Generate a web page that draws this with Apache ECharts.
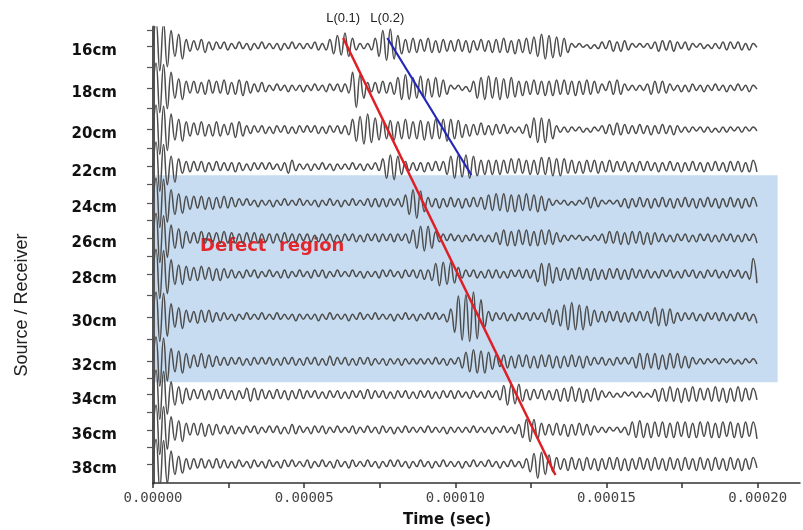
<!DOCTYPE html>
<html><head><meta charset="utf-8">
<script src="https://cdn.jsdelivr.net/npm/echarts@6/dist/echarts.min.js"></script>
<style>html,body{margin:0;padding:0;background:#fff}#c{width:803px;height:530px}</style>
</head><body><div id="c"></div>
<script>
// Trace labels and their baseline positions on the (uneven) source/receiver axis
const sources = ['16cm','18cm','20cm','22cm','24cm','26cm','28cm','30cm','32cm','34cm','36cm','38cm'];
const tracePos = [16, 18.2, 20.4, 22.35, 24.25, 26.1, 28.0, 30.25, 32.6, 34.35, 36.2, 38.0];
const xLabelTicks = [0, 0.00005, 0.0001, 0.00015, 0.0002];
const xMinorTicks = [0, 0.000025, 0.00005, 0.000075, 0.0001, 0.000125, 0.00015, 0.000175, 0.0002];
// sampling of the read peaks: first peak time and spacing (sec)
const t0 = 0.000001, dt = 0.00000125;
// Peak amplitudes (alternating up/down, pixel-like units)
const tr16 = [19,-19,18,-16,12,-8,9,-10,5,-4, 4,-3,5,-5,3,-3,3,-2,3,-3, 2,-2,3,-2,2,-3,2,-2,3,-2, 2,-2,2,-3,2,-2,3,-2,2,-2, 2,-2,3,-3,2,-3,5,-6,8,-7, 10,-8,6,-3,2,-2,2,-3,6,-8, 12,-11,13,-10,8,-6,5,-5,6,-5, 5,-4,6,-5,4,-5,5,-4,4,-4, 5,-4,4,-5,4,-3,5,-4,4,-5, 5,-5,6,-5,4,-6,5,-5,6,-6, 7,-8,9,-10,8,-9,7,-8,6,-5, 2,-1,2,-1,1,-2,1,-2,3,-2, 4,-4,3,-4,4,-3,2,-1,2,-1, 2,-2,3,-4,4,-3,4,-4,3,-2, 3,-3,2,-1,2,-2,1,-2,2,-2, 3,-3,3,-2,3,-3,2,-3,2,-1];
const tr18 = [19,-19,18,-16,12,-8,7,-9,5,-4, 5,-4,4,-5,6,-4,5,-4,6,-5, 4,-5,6,-6,5,-4,3,-3,4,-3, 2,-2,3,-2,2,-3,2,-2,2,-3, 2,-2,3,-2,2,-3,3,-2,3,-3, 3,-4,12,-15,10,-8,4,-3,4,-4, 5,-4,4,-5,8,-9,10,-9,8,-8, 9,-8,7,-7,8,-7,6,-5,2,-1, 2,-2,1,-3,5,-8,8,-9,9,-8, 8,-9,7,-8,8,-7,5,-6,5,-5, 6,-5,5,-6,5,-6,6,-5,6,-5, 5,-6,5,-5,6,-5,5,-4,3,-2, 5,-5,6,-5,3,-2,2,-2,2,-2, 3,-5,5,-4,5,-4,3,-2,2,-3, 2,-3,3,-2,2,-3,2,-2,3,-2, 2,-3,2,-2,3,-2,2,-3,2,-1];
const tr20 = [19,-19,18,-16,12,-8,8,-9,6,-5, 5,-4,6,-5,4,-5,6,-5,4,-4, 5,-6,6,-5,3,-3,3,-2,3,-3, 2,-3,3,-2,3,-3,2,-3,3,-2, 3,-2,3,-3,2,-3,3,-2,3,-3, 3,-4,8,-9,10,-11,12,-10,9,-8, 8,-7,7,-8,6,-7,8,-7,6,-7, 7,-8,6,-7,8,-7,8,-9,8,-7, 7,-6,4,-5,4,-4,5,-4,3,-4, 4,-3,4,-3,2,-2,2,-3,4,-6, 9,-10,9,-10,8,-7,3,-2,2,-2, 2,-1,2,-2,1,-2,2,-1,3,-3, 4,-4,5,-4,4,-3,3,-3,4,-3, 3,-4,3,-3,4,-3,3,-4,3,-2, 2,-2,2,-1,2,-2,2,-2,1,-2, 2,-2,2,-1,2,-2,2,-1,2,-1];
const tr22 = [19,-19,17,-14,8,-12,6,-5,4,-4, 4,-3,4,-4,3,-3,4,-3,3,-3, 3,-4,3,-3,2,-3,3,-2,3,-2, 3,-2,2,-3,3,-5,5,-3,2,-2, 2,-3,2,-2,3,-2,2,-3,2,-2, 2,-2,3,-2,2,-3,2,-2,3,-3, 6,-9,9,-10,8,-6,4,-3,3,-3, 3,-4,3,-3,4,-3,4,-6,8,-9, 9,-8,9,-9,8,-7,5,-6,5,-6, 5,-6,5,-5,6,-5,6,-5,5,-6, 5,-6,7,-6,7,-7,6,-7,6,-5, 5,-5,4,-5,5,-4,5,-5,4,-4, 5,-4,4,-3,4,-4,3,-4,4,-3, 4,-3,3,-4,3,-3,4,-3,3,-4, 3,-3,4,-3,3,-4,3,-3,4,-3, 3,-4,4,-3,4,-4,3,-4,5,-4];
const tr24 = [19,-19,18,-15,10,-9,7,-8,5,-5, 5,-4,5,-5,4,-5,4,-4,5,-4, 4,-3,3,-2,3,-2,2,-3,2,-2, 2,-3,2,-2,3,-2,2,-2,3,-2, 2,-2,2,-3,2,-2,3,-2,2,-3, 2,-2,3,-2,2,-2,3,-3,3,-3, 3,-3,3,-2,3,-3,6,-9,10,-12, 9,-7,4,-3,3,-4,3,-3,4,-3, 3,-4,3,-3,4,-3,4,-5,6,-6, 7,-6,7,-7,6,-7,6,-6,7,-6, 6,-7,5,-6,3,-2,2,-1,2,-2, 1,-2,2,-1,4,-4,4,-3,2,-1, 2,-1,2,-3,3,-4,3,-3,4,-3, 3,-4,3,-3,4,-3,3,-4,3,-3, 4,-3,3,-4,3,-3,4,-3,3,-4, 3,-3,4,-3,3,-4,3,-3,4,-3];
const tr26 = [19,-19,17,-15,10,-8,7,-8,5,-4, 4,-4,5,-4,4,-3,4,-4,5,-4, 4,-4,3,-4,4,-3,4,-4,3,-3, 3,-4,3,-3,4,-3,3,-3,3,-2, 3,-3,2,-3,3,-2,3,-3,2,-3, 3,-2,3,-3,2,-3,3,-2,3,-3, 3,-2,3,-3,3,-2,3,-4,6,-8, 9,-10,9,-8,5,-3,3,-2,3,-2, 2,-3,2,-2,3,-2,2,-3,2,-3, 4,-5,6,-6,5,-6,6,-5,6,-6, 5,-6,6,-5,6,-5,4,-3,2,-2, 2,-1,2,-2,1,-2,2,-2,3,-4, 5,-4,5,-5,4,-5,5,-4,5,-5, 4,-5,4,-3,3,-3,2,-3,3,-2, 3,-3,2,-3,3,-2,3,-3,2,-3, 3,-2,3,-3,2,-3,3,-2,3,-4];
const tr28 = [19,-19,18,-15,11,-8,7,-8,6,-5, 5,-5,6,-4,5,-5,4,-5,4,-3, 3,-3,2,-3,3,-2,3,-3,2,-2, 3,-2,2,-3,3,-3,2,-2,3,-2, 2,-3,3,-2,3,-3,2,-2,3,-2, 2,-2,3,-2,2,-3,2,-2,2,-3, 3,-2,3,-2,2,-3,3,-2,3,-3, 3,-4,3,-5,8,-9,9,-8,9,-7, 5,-3,3,-2,3,-3,2,-3,3,-3, 3,-3,2,-3,3,-2,3,-3,3,-3, 3,-6,8,-9,8,-7,5,-5,4,-4, 4,-4,5,-4,4,-5,4,-4,3,-4, 4,-3,4,-4,3,-4,4,-3,3,-3, 3,-3,2,-3,3,-2,3,-3,2,-3, 3,-2,3,-3,2,-3,3,-2,3,-3, 2,-3,3,-2,3,-3,2,-4,12,-7];
const tr30 = [19,-19,18,-15,10,-8,7,-9,5,-4, 4,-5,5,-4,5,-4,3,-3,3,-2, 2,-3,2,-2,3,-2,2,-2,3,-2, 2,-2,3,-2,2,-2,2,-3,2,-2, 2,-2,2,-3,2,-2,3,-2,2,-2, 2,-3,2,-2,3,-2,2,-2,3,-2, 2,-2,2,-3,2,-2,3,-2,2,-3, 2,-2,3,-2,3,-2,2,-4,6,-12, 16,-18,17,-19,19,-17,13,-8,4,-3, 3,-2,3,-3,2,-3,3,-2,3,-3, 3,-2,3,-4,6,-6,5,-7,9,-10, 11,-10,9,-10,8,-7,5,-4,4,-4, 4,-3,4,-4,3,-4,3,-3,4,-3, 4,-5,7,-7,6,-7,6,-5,3,-3, 3,-2,3,-3,2,-3,3,-2,3,-3, 3,-3,2,-3,3,-2,3,-3,2,-5];
const tr32 = [19,-19,18,-15,10,-8,8,-9,6,-5, 5,-4,6,-5,5,-4,4,-3,3,-3, 3,-2,3,-3,2,-3,3,-2,3,-2, 3,-3,2,-3,3,-2,3,-3,2,-3, 3,-2,3,-3,2,-3,4,-3,3,-2, 3,-3,2,-3,3,-2,3,-3,2,-2, 2,-3,2,-2,2,-3,2,-2,2,-2, 2,-2,2,-2,3,-2,2,-3,2,-2, 3,-5,7,-8,9,-9,8,-9,7,-6, 5,-4,5,-5,4,-5,5,-4,5,-5, 4,-5,5,-4,5,-5,4,-5,4,-4, 5,-4,4,-5,4,-3,3,-2,3,-3, 2,-3,3,-2,3,-2,3,-5,6,-6, 6,-5,6,-6,5,-6,6,-5,6,-5, 4,-5,3,-2,2,-2,2,-1,2,-2, 2,-1,2,-2,1,-2,2,-1,2,-2];
const tr34 = [19,-19,18,-15,10,-8,6,-7,5,-4, 4,-3,4,-4,3,-4,4,-3,4,-3, 3,-4,3,-3,5,-5,5,-4,4,-3, 3,-3,4,-3,3,-4,3,-3,4,-3, 3,-2,3,-3,2,-3,3,-2,3,-3, 2,-3,3,-2,3,-3,4,-3,3,-2, 3,-3,2,-3,3,-2,3,-3,2,-3, 3,-2,3,-3,2,-3,3,-2,3,-3, 3,-2,2,-3,3,-2,2,-3,3,-2, 3,-4,7,-8,8,-7,8,-5,4,-4, 4,-3,4,-4,3,-4,4,-5,5,-5, 6,-5,5,-6,4,-5,5,-4,3,-2, 2,-2,1,-2,2,-1,2,-2,2,-2, 1,-2,4,-5,5,-5,6,-5,5,-6, 5,-5,6,-5,5,-4,5,-5,6,-5, 5,-6,5,-5,6,-5,5,-4,5,-4];
const tr36 = [19,-19,18,-15,10,-8,7,-9,5,-4, 5,-4,5,-5,4,-4,4,-3,3,-3, 3,-3,2,-3,3,-2,3,-3,2,-2, 3,-2,3,-3,2,-3,4,-3,3,-2, 2,-3,3,-2,3,-3,2,-2,3,-2, 2,-2,3,-3,2,-2,3,-2,2,-3, 3,-2,2,-3,2,-2,3,-2,2,-2, 2,-2,3,-2,2,-2,2,-3,2,-2, 2,-2,2,-2,3,-2,2,-2,2,-3, 2,-2,3,-2,2,-3,4,-6,8,-9, 8,-7,5,-4,4,-4,5,-4,4,-5, 4,-4,5,-4,4,-4,3,-2,2,-2, 2,-1,2,-2,2,-4,6,-6,7,-6, 5,-6,6,-5,6,-6,5,-6,6,-5, 6,-6,5,-6,6,-5,6,-6,5,-6, 6,-5,6,-6,5,-6,6,-5,6,-7];
const tr38 = [19,-19,18,-15,10,-8,6,-7,4,-4, 4,-3,4,-3,3,-3,4,-3,3,-3, 2,-3,3,-2,2,-3,3,-2,2,-3, 3,-2,2,-3,3,-2,3,-2,2,-2, 3,-3,2,-2,3,-2,2,-3,3,-2, 2,-3,3,-2,2,-2,3,-2,2,-3, 2,-2,3,-2,3,-2,2,-3,2,-2, 3,-2,2,-3,2,-2,3,-2,2,-2, 2,-3,2,-2,3,-2,2,-2,3,-2, 2,-3,2,-2,3,-2,2,-3,4,-6, 8,-11,9,-8,7,-6,5,-4,4,-5, 5,-4,4,-5,5,-4,4,-5,4,-4, 5,-4,5,-5,4,-5,4,-4,5,-4, 4,-5,5,-4,4,-5,5,-4,4,-5, 5,-4,4,-5,5,-4,4,-5,5,-4, 4,-5,5,-4,4,-5,4,-4,5,-3];
const traces = [tr16, tr18, tr20, tr22, tr24, tr26, tr28, tr30, tr32, tr34, tr36, tr38];
// Arrival-time picks (time sec, axis position)
const lineL01 = [[0.0000629, 15.58], [0.0001331, 38.58]];
const lineL02 = [[0.0000775, 15.58], [0.0001053, 22.79]];
// Defect region extent
const defectArea = {t0: 0.00000066, t1: 0.0002066, p0: 22.8, p1: 33.7};

const ampScale = 1.3 / 19; // pixel-like amplitude units -> axis units

const yTickVals = [15.15].concat(tracePos);
for (let i = 0; i < tracePos.length - 1; i++) yTickVals.push((tracePos[i] + tracePos[i + 1]) / 2);

const pickLabel = {show: true, position: 'top', distance: 13, color: '#222', fontSize: 13, fontFamily: 'Liberation Sans'};

const series = [{
  type: 'line', data: [], z: 1, silent: true,
  markArea: {
    silent: true,
    itemStyle: {color: '#c7dcf0', opacity: 1},
    label: {show: true, position: 'insideTopLeft', offset: [40, 57], color: '#e3262b',
      fontFamily: 'DejaVu Sans', fontWeight: 'bold', fontSize: 18},
    data: [[{name: 'Defect  region', xAxis: defectArea.t0, yAxis: defectArea.p0}, {xAxis: defectArea.t1, yAxis: defectArea.p1}]]
  }
}];
traces.forEach((amps, k) => {
  const base = tracePos[k];
  const data = [[0, base]];
  amps.forEach((a, i) => data.push([t0 + i * dt, base - a * ampScale]));
  series.push({
    type: 'line', name: sources[k], data, z: 3, smooth: 0.45, showSymbol: false, silent: true,
    lineStyle: {color: '#4c4c4c', width: 1.5}
  });
});
series.push({
  type: 'line', data: lineL01, z: 5, showSymbol: false, silent: true,
  lineStyle: {color: '#de1f26', width: 2.5},
  markPoint: {symbol: 'circle', symbolSize: 0, silent: true, label: Object.assign({formatter: 'L(0.1)'}, pickLabel),
    data: [{coord: lineL01[0]}]}
});
series.push({
  type: 'line', data: lineL02, z: 5, showSymbol: false, silent: true,
  lineStyle: {color: '#2426b8', width: 2.2},
  markPoint: {symbol: 'circle', symbolSize: 0, silent: true, label: Object.assign({formatter: 'L(0.2)'}, pickLabel),
    data: [{coord: lineL02[0]}]}
});

const chart = echarts.init(document.getElementById('c'), null, {renderer: 'canvas'});
chart.setOption({
  animation: false,
  grid: {left: 153, right: 3, top: 27, bottom: 47},
  xAxis: {
    type: 'value', min: 0, max: 0.000214,
    axisLine: {show: true, lineStyle: {color: '#333', width: 1.5}},
    axisTick: {show: true, customValues: xMinorTicks, length: 5, lineStyle: {color: '#333', width: 1.5}},
    axisLabel: {customValues: xLabelTicks, color: '#444', fontFamily: 'DejaVu Sans Mono', fontSize: 14, margin: 8,
      formatter: v => v.toFixed(5)},
    splitLine: {show: false}
  },
  yAxis: {
    type: 'value', min: 15, max: 39, inverse: true,
    axisLine: {show: true, lineStyle: {color: '#555', width: 3}},
    axisTick: {show: true, customValues: yTickVals, length: 6, lineStyle: {color: '#555', width: 1.2}},
    axisLabel: {customValues: tracePos, margin: 36, color: '#111', fontFamily: 'DejaVu Sans', fontWeight: 'bold', fontSize: 15,
      verticalAlign: 'top', lineHeight: 10,
      formatter: v => {
        let best = 0;
        tracePos.forEach((p, i) => { if (Math.abs(p - v) < Math.abs(tracePos[best] - v)) best = i; });
        return sources[best];
      }},
    splitLine: {show: false}
  },
  graphic: [
    {type: 'text', left: 403, top: 513, style: {text: 'Time (sec)', fontFamily: 'DejaVu Sans', fontWeight: 'bold', fontSize: 15, fill: '#111'}},
    {type: 'text', x: 22, y: 305, rotation: Math.PI / 2, style: {text: 'Source / Receiver', fontFamily: 'Liberation Sans', fontSize: 18, fill: '#222', align: 'center', verticalAlign: 'middle'}}
  ],
  series
});
</script>
</body></html>
